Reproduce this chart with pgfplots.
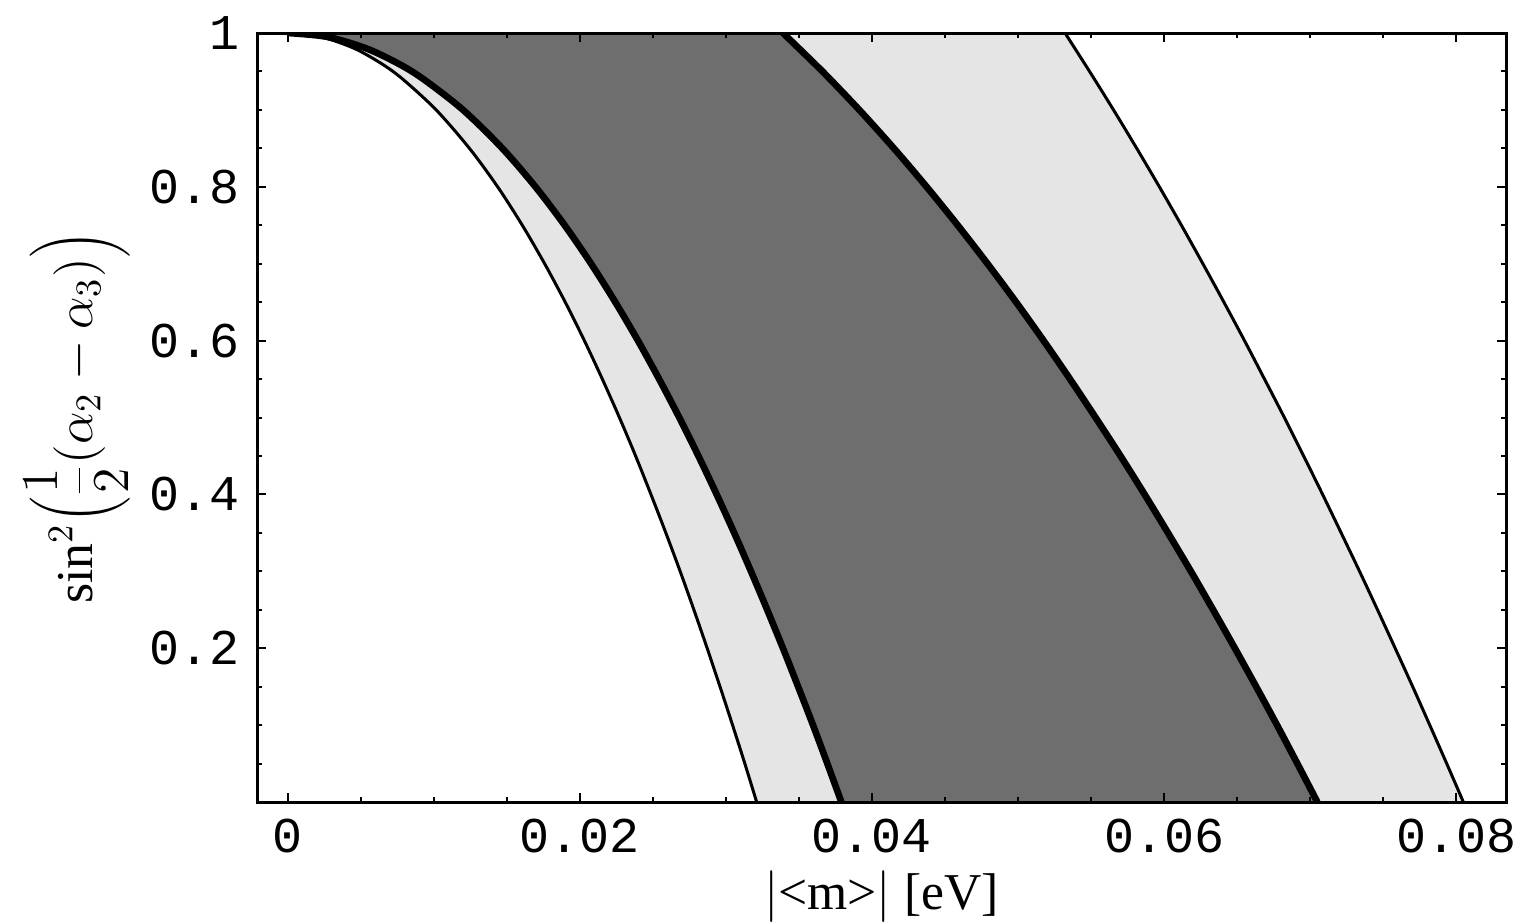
\RequirePackage{fix-cm}
\documentclass[border=0pt]{standalone}
\usepackage{fontspec}
\setmainfont{Liberation Serif}
\newfontfamily\ticktt{Liberation Mono}
\usepackage{pgfplots}
\usepackage{pgfplotstable}
\usepgfplotslibrary{fillbetween}
\pgfplotsset{compat=1.18}

% Boundaries of the allowed regions: |<m>| [eV] versus sin^2((alpha2-alpha3)/2)
\pgfplotstableread{
m        s
0.0      1.00
0.00227  0.995
0.00454  0.98
0.00642  0.96
0.00786  0.94
0.01015  0.90
0.01243  0.85
0.01436  0.80
0.01605  0.75
0.01758  0.70
0.01899  0.65
0.02030  0.60
0.02153  0.55
0.02270  0.50
0.02381  0.45
0.02486  0.40
0.02588  0.35
0.02686  0.30
0.02780  0.25
0.02871  0.20
0.02959  0.15
0.03045  0.10
0.03129  0.05
0.03210  0.00
}\outerleft

\pgfplotstableread{
m        s
0.0      1.00
0.00268  0.995
0.00536  0.98
0.00758  0.96
0.00928  0.94
0.01199  0.90
0.01468  0.85
0.01695  0.80
0.01895  0.75
0.02076  0.70
0.02242  0.65
0.02397  0.60
0.02542  0.55
0.02680  0.50
0.02811  0.45
0.02936  0.40
0.03056  0.35
0.03171  0.30
0.03282  0.25
0.03390  0.20
0.03494  0.15
0.03596  0.10
0.03694  0.05
0.03790  0.00
}\innerleft

\pgfplotstableread{
m        s
0.03390  1.00
0.03661  0.95
0.03913  0.90
0.04150  0.85
0.04374  0.80
0.04587  0.75
0.04791  0.70
0.04987  0.65
0.05175  0.60
0.05356  0.55
0.05531  0.50
0.05702  0.45
0.05867  0.40
0.06027  0.35
0.06184  0.30
0.06336  0.25
0.06485  0.20
0.06631  0.15
0.06774  0.10
0.06913  0.05
0.07050  0.00
}\innerright

\pgfplotstableread{
m        s
0.05322  1.00
0.05490  0.95
0.05654  0.90
0.05813  0.85
0.05968  0.80
0.06119  0.75
0.06266  0.70
0.06410  0.65
0.06551  0.60
0.06688  0.55
0.06824  0.50
0.06956  0.45
0.07086  0.40
0.07213  0.35
0.07339  0.30
0.07462  0.25
0.07583  0.20
0.07703  0.15
0.07820  0.10
0.07936  0.05
0.08050  0.00
}\outerright

\begin{document}
\begin{tikzpicture}
\begin{axis}[
  name=ax,
  scale only axis,
  width=374.7pt, height=230.7pt,
  xmin=-0.00212, xmax=0.08342,
  ymin=0, ymax=1,
  axis on top,
  tick align=inside,
  xtick={0,0.02,0.04,0.06,0.08},
  xticklabels={0,0.02,0.04,0.06,0.08},
  ytick={0,0.2,0.4,0.6,0.8,1},
  yticklabels={,0.2,0.4,0.6,0.8,1},
  scaled ticks=false,
  minor x tick num=3,
  minor y tick num=3,
  major tick length=2.7pt,
  minor tick length=1.6pt,
  every tick/.style={black, line width=0.6pt},
  axis line style={line width=0.9pt},
  ticklabel style={font=\ticktt\fontsize{15}{17}\selectfont, inner sep=1pt},
  xticklabel style={inner sep=0pt, yshift=-5pt},
  yticklabel style={xshift=-4pt},
  xlabel={$|$<m>$|$ [eV]},
  xlabel style={font=\fontsize{15.5}{18}\selectfont, inner sep=0pt,
    at={(axis description cs:0.5,0)}, anchor=north, yshift=-20.5pt},
  ylabel={$\sin^2\!\left(\displaystyle\frac{1}{2}(\alpha_2-\alpha_3)\right)$},
  ylabel style={font=\fontsize{15.5}{18}\selectfont,
    at={(axis description cs:-0.1441,0.5)}, anchor=center},
  every axis plot/.append style={smooth},
]
  % boundary paths used for the shaded bands
  \addplot[draw=none, name path=oL] table[x=m, y=s] {\outerleft};
  \addplot[draw=none, name path=oR] table[x=m, y=s] {\outerright};
  \addplot[draw=none, name path=iL] table[x=m, y=s] {\innerleft};
  \addplot[draw=none, name path=iR] table[x=m, y=s] {\innerright};

  % wide (light) and narrow (dark) bands
  \addplot[black!10] fill between[of=oL and oR];
  \addplot[black!57] fill between[of=iL and iR];

  % boundary curves
  \addplot[black, line width=0.9pt] table[x=m, y=s] {\outerleft};
  \addplot[black, line width=0.9pt] table[x=m, y=s] {\outerright};
  \addplot[black, line width=2pt] table[x=m, y=s] {\innerleft};
  \addplot[black, line width=2pt] table[x=m, y=s] {\innerright};
\end{axis}
\pgfresetboundingbox
\path[use as bounding box] ([shift={(-77.1pt,-36pt)}]ax.south west) rectangle ([shift={(377.7pt,240.6pt)}]ax.south west);
\end{tikzpicture}
\end{document}
